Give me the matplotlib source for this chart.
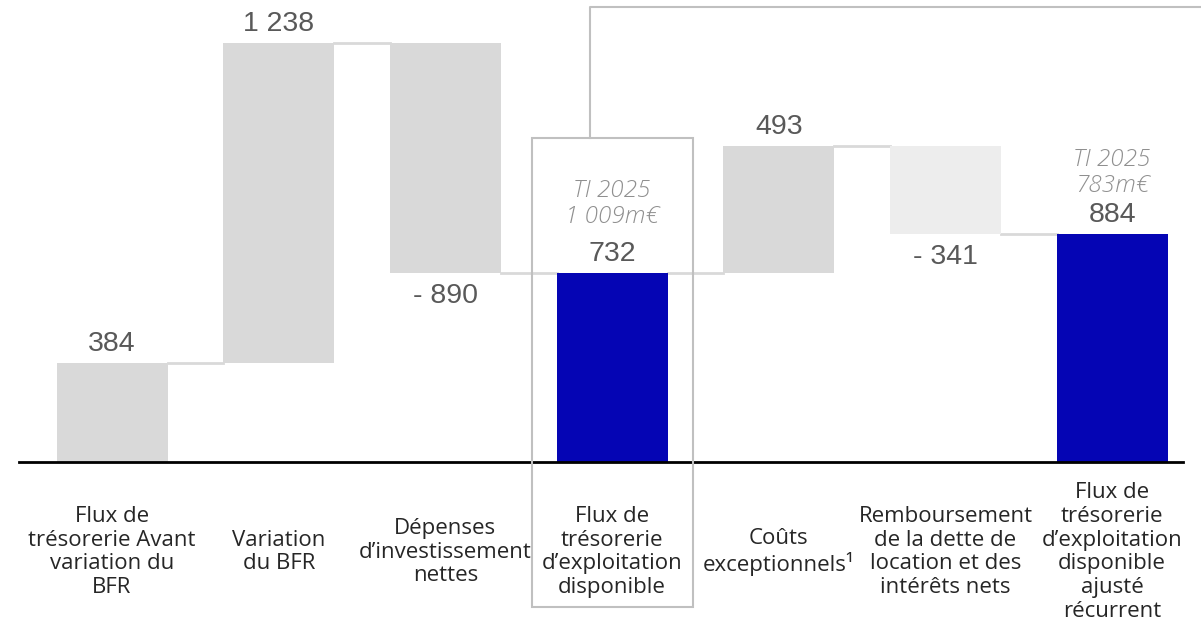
import numpy as np
import matplotlib.pyplot as plt
from matplotlib.patches import Rectangle

labels = ["Flux de\ntrésorerie Avant\nvariation du\nBFR",
          "Variation\ndu BFR",
          "Dépenses\nd\u2019investissement\nnettes",
          "Flux de\ntrésorerie\nd\u2019exploitation\ndisponible",
          "Coûts\nexceptionnels\u00b9",
          "Remboursement\nde la dette de\nlocation et des\nintérêts nets",
          "Flux de\ntrésorerie\nd\u2019exploitation\ndisponible\najusté\nrécurrent"]
values = [384, 1238, -890, 732, 493, -341, 884]
kinds = ["total", "delta", "delta", "total", "delta", "delta", "total"]
value_text = ["384", "1 238", "- 890", "732", "493", "- 341", "884"]
prior_text = {3: "TI 2025\n1 009m\u20ac", 6: "TI 2025\n783m\u20ac"}

GREY = "#d9d9d9"
LIGHT = "#ededed"
BLUE = "#0505b4"
TXT = "#595959"

# waterfall bottoms / tops
bottoms = []
tops = []
level = 0
for v, k in zip(values, kinds):
    if k == "total":
        bottoms.append(0)
        tops.append(v)
        level = v
    else:
        bottoms.append(min(level, level + v))
        tops.append(max(level, level + v))
        level = level + v
bottoms = np.array(bottoms)
tops = np.array(tops)

colors = []
for i, k in enumerate(kinds):
    if k == "total" and i > 0:
        colors.append(BLUE)
    elif values[i] < 0 and i == 5:
        colors.append(LIGHT)
    else:
        colors.append(GREY)

x = np.arange(len(values))
w = 0.666

fig = plt.figure(figsize=(12.01, 6.27), dpi=100)
ax = fig.add_axes([0, 0, 1, 1])
ax.set_xlim(-0.672, 6.533)
ax.set_ylim(-637, 1788)
ax.axis("off")

ax.bar(x, tops - bottoms, bottom=bottoms, width=w, color=colors, zorder=2)

# connectors
for i in range(len(values) - 1):
    lvl = tops[i] if (kinds[i] == "total" or values[i] > 0) else bottoms[i]
    ax.plot([x[i] + w / 2, x[i + 1] - w / 2], [lvl, lvl], color=GREY, lw=2, zorder=1)

# baseline
ax.plot([x[0] - 0.558, x[-1] + 0.425], [0, 0], color="black", lw=2, zorder=3)

# value labels
for i, v in enumerate(values):
    if v < 0:
        ax.text(x[i], bottoms[i] - 38, value_text[i], ha="center", va="top",
                fontsize=20.5, color=TXT, family="Liberation Sans")
    else:
        ax.text(x[i], tops[i] + 22, value_text[i], ha="center", va="bottom",
                fontsize=20.5, color=TXT, family="Liberation Sans")

# prior year labels
prior_gap = {3: 267, 6: 235}
for i, t in prior_text.items():
    ax.text(x[i], tops[i] + prior_gap[i], t, ha="center", va="center",
            fontsize=17.5, style="italic", fontweight="light", color="#8f8f8f",
            family="Open Sans", linespacing=1.12)

# category labels
for i, lab in enumerate(labels):
    ax.text(x[i], -347, lab, ha="center", va="center", fontsize=16,
            color="#262626", family="Open Sans", linespacing=1.17)

# box around free cash flow + bracket
ax.add_patch(Rectangle((x[3] - 0.48, -560), 0.965, 1815, fill=False,
                       edgecolor="#c0c0c0", lw=1.5, zorder=4))
ax.plot([x[3] - 0.13, x[3] - 0.13, 6.6], [1255, 1761, 1761], color="#c0c0c0",
        lw=1.5, zorder=4, clip_on=False)

fig.savefig("out.png", dpi=100)
